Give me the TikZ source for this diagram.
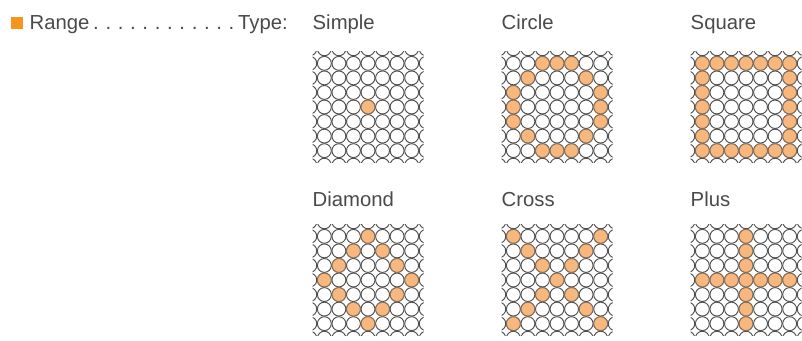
\documentclass[tikz,border=0pt]{standalone}
\usepackage{fontspec}
\setmainfont{Liberation Sans}
\definecolor{txt}{HTML}{4A4A4A}
\definecolor{accent}{HTML}{F7941D}
\definecolor{dotfill}{HTML}{F8B77C}
\definecolor{ring}{HTML}{505050}
\newcommand\dotgrid[3]{%
  \begin{scope}[shift={(#1,#2)}]
    \clip (-55.5,-55.5) rectangle (55.5,55.5);
    \foreach \i in {-4,...,4} {\foreach \j in {-4,...,4} {\draw[cell] (\i*14.55,\j*14.55) circle[radius=6.95];}}
    \foreach \c/\r in {#3} {\draw[hit] (\c*14.55-43.65,\r*14.55-43.65) circle[radius=6.95];}
  \end{scope}}
\begin{document}
\begin{tikzpicture}[x=1pt,y=-1pt,
  lbl/.style={font=\fontsize{20.3}{24}\selectfont, text=txt, inner sep=0pt, anchor=base west},
  cell/.style={draw=ring, line width=0.95pt, fill=white},
  hit/.style={draw=ring!70!dotfill, line width=0.95pt, fill=dotfill},
  marker/.style={fill=accent, minimum size=12pt, inner sep=0pt, anchor=south west}]
\useasboundingbox (0,0) rectangle (802,340);
\fill[white] (0,0) rectangle (802,340);
% header
\node[marker] (mark) at (10.3,29.3) {};
\node[lbl] (range) at (29.5,29.3) {\hbox to 258pt{Range\xleaders\hbox to 11.6pt{\hss.\hss}\hfill Type:}};
% labels
\node[lbl] (simple) at (312.5,29.3) {Simple};
\node[lbl] (circle) at (501.5,29.3) {Circle};
\node[lbl] (square) at (690.5,29.3) {Square};
\node[lbl] (diamond) at (312.5,206.7) {Diamond};
\node[lbl] (cross) at (501.5,206.7) {Cross};
\node[lbl] (plus) at (690.5,206.7) {Plus};
% grids
\dotgrid{368}{107}{3/3}
\dotgrid{557}{107}{2/0,3/0,4/0,1/1,5/1,0/2,6/2,0/3,6/3,0/4,6/4,1/5,5/5,2/6,3/6,4/6}
\dotgrid{746}{107}{0/0,1/0,2/0,3/0,4/0,5/0,6/0,0/1,6/1,0/2,6/2,0/3,6/3,0/4,6/4,0/5,6/5,0/6,1/6,2/6,3/6,4/6,5/6,6/6}
\dotgrid{368}{280}{3/0,2/1,4/1,1/2,5/2,0/3,6/3,1/4,5/4,2/5,4/5,3/6}
\dotgrid{557}{280}{0/0,6/0,1/1,5/1,2/2,4/2,3/3,2/4,4/4,1/5,5/5,0/6,6/6}
\dotgrid{746}{280}{3/0,3/1,3/2,0/3,1/3,2/3,3/3,4/3,5/3,6/3,3/4,3/5,3/6}
\end{tikzpicture}
\end{document}
